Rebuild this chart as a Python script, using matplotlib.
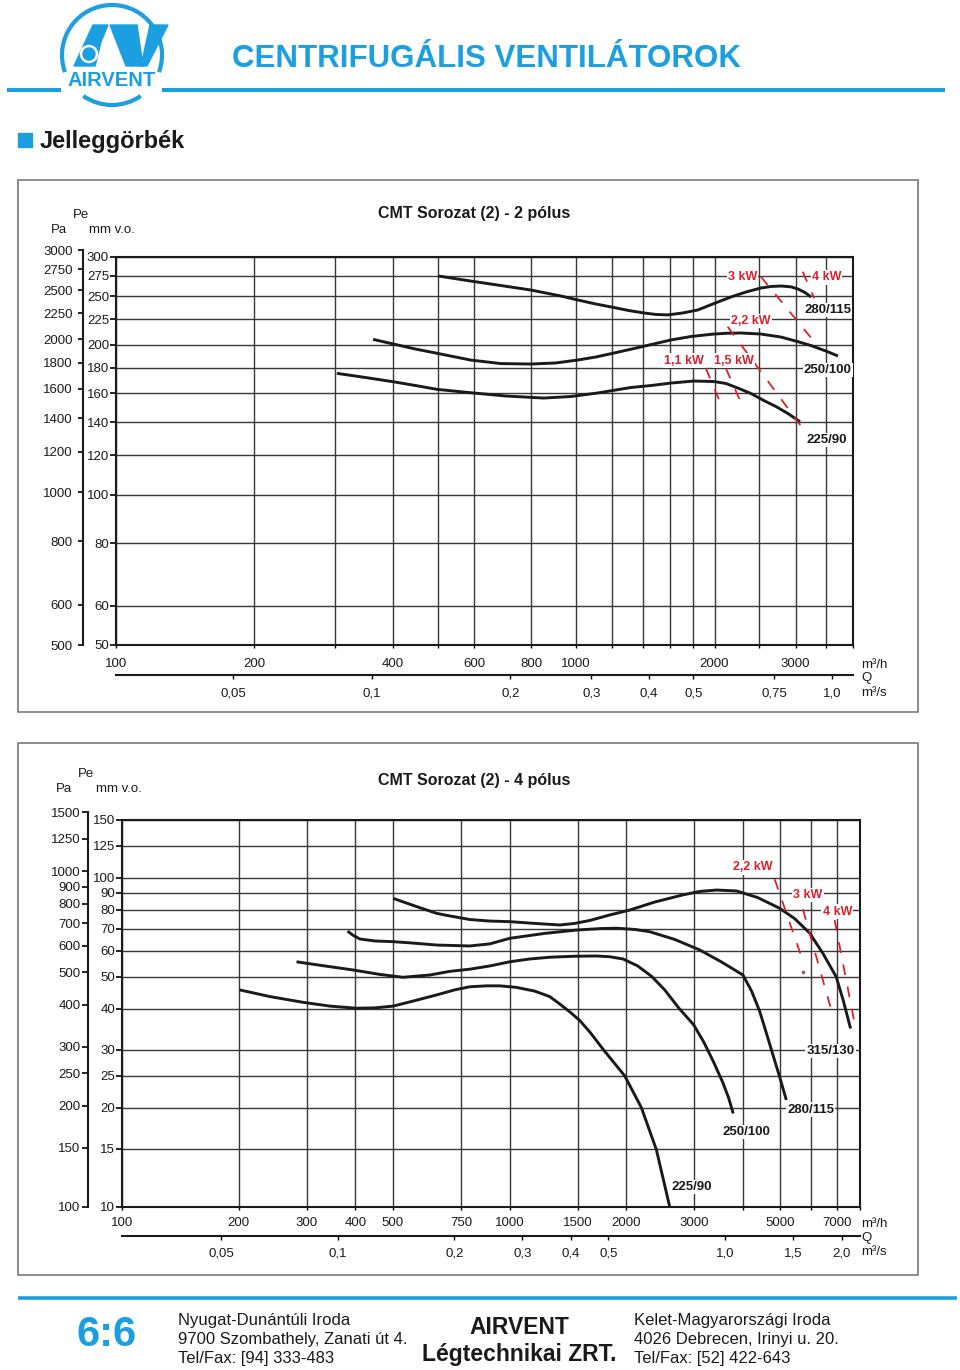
import matplotlib
matplotlib.use("Agg")
import matplotlib.pyplot as plt
from matplotlib.patches import Rectangle, Polygon, Circle, Arc

plt.rcParams["font.family"] = ["Liberation Sans", "DejaVu Sans"]

BLUE = "#1c9fe0"
RED = "#d8212f"
INK = "#1a1a1a"
GRID = "#383838"

# ---------------- 2 pólus (Q in m3/h, Pe in mm v.o.) ----------------
P2_TITLE = "CMT Sorozat (2) - 2 pólus"
P2_Q_GRID = [100, 200, 300, 400, 500, 600, 800, 1000, 1200, 1400, 1600, 1800,
             2000, 2500, 3000, 3500, 4000]
P2_Q_LABELS = [100, 200, 400, 600, 800, 1000, 2000, 3000]
P2_MM = [300, 275, 250, 225, 200, 180, 160, 140, 120, 100, 80, 60, 50]
P2_PA = [3000, 2750, 2500, 2250, 2000, 1800, 1600, 1400, 1200, 1000, 800, 600, 500]
P2_QS = [0.05, 0.1, 0.2, 0.3, 0.4, 0.5, 0.75, 1.0]
P2_QS_LABELS = ["0,05", "0,1", "0,2", "0,3", "0,4", "0,5", "0,75", "1,0"]

P2_NAMES = ["280/115", "250/100", "225/90"]
P2_280_Q = [502, 590, 686, 797, 926, 1008, 1103, 1208, 1302, 1404, 1491, 1583,
            1707, 1840, 1994, 2171, 2341, 2523, 2653, 2789, 2932, 3037, 3146, 3242]
P2_280_P = [274.8, 268.5, 263.0, 257.6, 250.6, 246.0, 241.5, 237.6, 234.3, 231.7,
            230.1, 229.6, 231.7, 234.9, 242.0, 249.4, 255.2, 260.0, 261.8, 262.4,
            261.4, 258.8, 254.6, 249.4]
P2_250_Q = [362, 401, 448, 499, 590, 686, 797, 903, 1008, 1103, 1208, 1383, 1607,
            1777, 1994, 2139, 2283, 2523, 2789, 3037, 3242, 3495, 3711]
P2_250_P = [205.1, 200.7, 196.1, 192.3, 186.4, 183.4, 183.0, 183.9, 186.4, 189.0,
            192.5, 198.0, 204.5, 207.8, 210.2, 211.0, 211.2, 210.2, 207.3, 202.9,
            199.3, 194.3, 189.9]
P2_225_Q = [302, 348, 401, 448, 499, 590, 703, 850, 974, 1114, 1315, 1454, 1607,
            1803, 1994, 2117, 2248, 2400, 2561, 2720, 2889, 3068]
P2_225_P = [175.3, 172.0, 168.6, 165.7, 162.8, 160.3, 157.9, 156.4, 157.5, 160.1,
            164.2, 165.7, 167.6, 169.2, 168.8, 167.3, 163.8, 159.7, 154.6, 150.4,
            145.6, 140.2]

P2_KW = ["1,1 kW", "1,5 kW", "2,2 kW", "3 kW", "4 kW"]
P2_KW_Q = [(1915, 2047), (2117, 2274), (2135, 3073), (2523, 3295), (3110, 3295)]
P2_KW_P = [(179.4, 155), (179.4, 154.5), (217.5, 138), (273.9, 202.9), (280.3, 247.9)]

# ---------------- 4 pólus ----------------
P4_TITLE = "CMT Sorozat (2) - 4 pólus"
P4_Q_GRID = [100, 200, 300, 400, 500, 750, 1000, 1500, 2000, 3000, 4000, 5000,
             6000, 7000, 8000]
P4_Q_LABELS = [100, 200, 300, 400, 500, 750, 1000, 1500, 2000, 3000, 5000, 7000]
P4_MM = [150, 125, 100, 90, 80, 70, 60, 50, 40, 30, 25, 20, 15, 10]
P4_PA = [1500, 1250, 1000, 900, 800, 700, 600, 500, 400, 300, 250, 200, 150, 100]
P4_QS = [0.05, 0.1, 0.2, 0.3, 0.4, 0.5, 1.0, 1.5, 2.0]
P4_QS_LABELS = ["0,05", "0,1", "0,2", "0,3", "0,4", "0,5", "1,0", "1,5", "2,0"]

P4_NAMES = ["315/130", "280/115", "250/100", "225/90"]
P4_315_Q = [501, 570, 648, 701, 790, 889, 1001, 1162, 1348, 1473, 1610, 1813, 2042,
            2369, 2798, 3095, 3423, 3855, 4367, 4978, 5440, 5946, 6435, 6969, 7257,
            7587]
P4_315_P = [86.5, 82.0, 77.9, 76.5, 74.6, 73.8, 73.5, 72.6, 71.8, 72.6, 74.1, 77.0,
            79.7, 84.3, 88.6, 90.8, 91.7, 91.1, 87.0, 80.7, 75.1, 67.9, 58.9, 49.9,
            42.5, 34.8]
P4_280_Q = [382, 394, 411, 449, 500, 570, 648, 790, 889, 1001, 1233, 1488, 1709,
            1887, 2104, 2300, 2668, 3095, 3526, 4002, 4214, 4419, 4607, 4802, 4978,
            5179]
P4_280_P = [68.8, 66.9, 65.1, 64.2, 63.9, 63.2, 62.4, 62.0, 62.9, 65.4, 67.7, 69.3,
            70.0, 70.2, 69.6, 68.5, 64.9, 60.3, 55.4, 50.6, 45.2, 39.3, 33.5, 28.5,
            24.8, 21.1]
P4_250_Q = [282, 334, 395, 463, 531, 623, 701, 790, 889, 1001, 1128, 1270, 1473,
            1676, 1813, 1963, 2142, 2327, 2514, 2732, 2987, 3169, 3363, 3548, 3677,
            3778]
P4_250_P = [55.5, 53.9, 52.4, 50.8, 49.8, 50.6, 51.9, 52.7, 53.9, 55.5, 56.6, 57.3,
            57.7, 57.8, 57.5, 56.6, 53.9, 50.1, 45.6, 40.2, 35.7, 31.7, 27.5, 23.9,
            21.4, 19.2]
P4_225_Q = [201, 241, 293, 344, 403, 449, 501, 570, 648, 722, 790, 872, 944, 1042,
            1162, 1270, 1348, 1430, 1518, 1620, 1743, 1982, 2189, 2393, 2590]
P4_225_P = [45.6, 43.5, 41.8, 40.7, 40.1, 40.2, 40.7, 42.3, 44.0, 45.6, 46.6, 46.9,
            46.9, 46.4, 45.2, 43.5, 41.3, 39.1, 36.8, 33.7, 30.1, 25.0, 20.0, 14.9,
            10.0]

P4_KW = ["2,2 kW", "3 kW", "4 kW"]
P4_KW_Q = [(4833, 5683), (5715, 6804), (6900, 7770)]
P4_KW_P = [(98.9, 56.9), (80.1, 38.7), (74.3, 36.1)]
P4_DOT_Q = [5715]
P4_DOT_P = [51.6]

W, H = 960, 1370
fig = plt.figure(figsize=(W / 100, H / 100), dpi=100)


def px(x0, y0, x1, y1):
    # pixel box (top-left origin) -> figure rect
    return [x0 / W, 1 - y1 / H, (x1 - x0) / W, (y1 - y0) / H]


bg = fig.add_axes([0, 0, 1, 1], zorder=0)
bg.set_xlim(0, W)
bg.set_ylim(H, 0)
bg.axis("off")

# ---------------- header ----------------
bg.plot([7, 61], [90, 90], color=BLUE, lw=2.9, solid_capstyle="butt")
bg.plot([162, 945], [90, 90], color=BLUE, lw=2.9, solid_capstyle="butt")
bg.add_patch(Arc((112, 55), 100, 100, theta1=160, theta2=380, color=BLUE, lw=3))
bg.add_patch(Arc((112, 55), 100, 100, theta1=55, theta2=125, color=BLUE, lw=3))
bg.add_patch(Polygon([(74, 66), (93, 25), (108, 25), (101, 42), (95, 66)], color=BLUE))
bg.add_patch(Polygon([(110, 25), (137, 25), (143, 66), (126, 66)], color=BLUE))
bg.add_patch(Polygon([(150, 25), (168, 25), (147, 66), (141, 66)], color=BLUE))
bg.add_patch(Circle((89, 54), 8.5, color="white"))
bg.add_patch(Circle((89, 54), 6, color=BLUE))
bg.text(112, 86, "AIRVENT", color=BLUE, fontsize=14.5, fontweight="bold",
        ha="center", va="baseline")
bg.text(487, 67, "CENTRIFUGÁLIS VENTILÁTOROK", color=BLUE, fontsize=22.5,
        fontweight="bold", ha="center", va="baseline")
bg.add_patch(Rectangle((18, 133), 14, 14, color=BLUE))
bg.text(40, 148, "Jelleggörbék", color=INK, fontsize=17, fontweight="bold",
        ha="left", va="baseline")

# chart frames
bg.add_patch(Rectangle((18, 180), 900, 532, fill=False, ec="#7a7a7a", lw=1.2))
bg.add_patch(Rectangle((18, 743), 900, 532, fill=False, ec="#7a7a7a", lw=1.2))

# ---------------- footer ----------------
bg.plot([18, 957], [1297.5, 1297.5], color=BLUE, lw=2.6, solid_capstyle="butt")
bg.text(107, 1346, "6:6", color=BLUE, fontsize=30, fontweight="bold",
        ha="center", va="baseline")
for i, line in enumerate(["Nyugat-Dunántúli Iroda", "9700 Szombathely, Zanati út 4.",
                          "Tel/Fax: [94] 333-483"]):
    bg.text(178, 1325 + 19 * i, line, fontsize=12, color=INK, va="baseline")
for i, line in enumerate(["Kelet-Magyarországi Iroda", "4026 Debrecen, Irinyi u. 20.",
                          "Tel/Fax: [52] 422-643"]):
    bg.text(634, 1325 + 19 * i, line, fontsize=12, color=INK, va="baseline")
bg.text(519, 1334, "AIRVENT", fontsize=16.5, fontweight="bold", color=INK,
        ha="center", va="baseline")
bg.text(519, 1361, "Légtechnikai ZRT.", fontsize=16.5, fontweight="bold", color=INK,
        ha="center", va="baseline")


def draw_chart(c):
    x0, y0, x1, y1 = c["plot"]
    ax = fig.add_axes(px(x0, y0, x1, y1), zorder=2)
    ax.patch.set_visible(False)
    ax.set_xscale("log")
    ax.set_yscale("log")
    ax.set_xlim(c["xlim"])
    ax.set_ylim(c["ylim"])
    ax.set_xticks(c["q_grid"], [str(v) if v in c["q_lab"] else "" for v in c["q_grid"]])
    ax.set_yticks(c["mm"], [str(v) for v in c["mm"]])
    ax.minorticks_off()
    ax.grid(True, color=GRID, lw=1.0)
    for s in ax.spines.values():
        s.set_linewidth(1.5)
        s.set_color(INK)
    ax.tick_params(axis="x", length=2.5, width=1, pad=c["xpad"], labelsize=9.5,
                   labelcolor=INK)
    ax.tick_params(axis="y", length=4, width=1.2, pad=1, labelsize=9.5, labelcolor=INK)

    for q, p in zip(c["curve_q"], c["curve_p"]):
        ax.plot(q, p, color=INK, lw=2.1, zorder=4, solid_joinstyle="round",
                solid_capstyle="butt")
    for q, p in zip(c["kw_q"], c["kw_p"]):
        ax.plot(q, p, color=RED, lw=1.3, ls=(0, (6, 6.5)), zorder=4)
    for name, (q, p) in zip(c["kw"], c["kw_at"]):
        ax.text(q, p, name, color=RED, fontsize=9, fontweight="bold", ha="center",
                va="center_baseline", zorder=6,
                bbox=dict(fc="white", ec="none", pad=0.8))
    for name, (q, p) in zip(c["names"], c["name_at"]):
        ax.text(q, p, name, color=INK, fontsize=9.5, fontweight="bold", ha="center",
                va="center_baseline", zorder=6,
                bbox=dict(fc="white", ec="none", pad=0.8))

    # second flow axis, m3/s
    qy = c["q_y"]
    qa = fig.add_axes(px(x0, qy - 2, x1, qy), zorder=2)
    qa.patch.set_visible(False)
    qa.set_xscale("log")
    qa.set_xlim(c["xlim"][0] / 3600, c["xlim"][1] / 3600)
    qa.set_yticks([])
    for s in ("top", "left", "right"):
        qa.spines[s].set_visible(False)
    qa.spines["bottom"].set_linewidth(1.5)
    qa.spines["bottom"].set_color(INK)
    qa.set_xticks(c["qs"], c["qs_lab"])
    qa.minorticks_off()
    qa.tick_params(axis="x", length=3, width=1, pad=c["qpad"], labelsize=9.5,
                   labelcolor=INK)

    # Pa pressure axis
    pa_x, pa_y0, pa_y1 = c["pa_axis"]
    pa = fig.add_axes(px(pa_x, pa_y0, pa_x + 2, pa_y1), zorder=2)
    pa.patch.set_visible(False)
    pa.set_yscale("log")
    pa.set_ylim(c["palim"])
    pa.set_xticks([])
    for s in ("top", "right", "bottom"):
        pa.spines[s].set_visible(False)
    pa.spines["left"].set_linewidth(1.5)
    pa.spines["left"].set_color(INK)
    pa.set_yticks(c["pa"], [str(v) for v in c["pa"]])
    pa.minorticks_off()
    pa.tick_params(axis="y", length=c["pa_len"], width=1.2, pad=c["pa_pad"],
                   labelsize=9.5, labelcolor=INK)

    # titles and unit texts
    tx, ty = c["title_at"]
    bg.text(tx, ty, c["title"], fontsize=11.5, fontweight="bold", color=INK,
            va="baseline")
    (pex, pey), (pax, pay), (mmx, mmy) = c["unit_at"]
    bg.text(pex, pey, "Pe", fontsize=9.5, color=INK, va="baseline")
    bg.text(pax, pay, "Pa", fontsize=9.5, color=INK, va="baseline")
    bg.text(mmx, mmy, "mm v.o.", fontsize=9.5, color=INK, va="baseline")
    ux, uy = c["flow_units_at"]
    bg.text(ux, uy, "m³/h", fontsize=9.5, color=INK, va="baseline")
    bg.text(ux, uy + 13.5, "Q", fontsize=9.5, color=INK, va="baseline")
    bg.text(ux, uy + 28, "m³/s", fontsize=9.5, color=INK, va="baseline")
    return ax


top = dict(
    plot=(116, 257, 853, 645), xlim=(100, 4000), ylim=(50, 300),
    q_grid=P2_Q_GRID, q_lab=P2_Q_LABELS, mm=P2_MM, pa=P2_PA,
    qs=P2_QS, qs_lab=P2_QS_LABELS,
    curve_q=[P2_280_Q, P2_250_Q, P2_225_Q], curve_p=[P2_280_P, P2_250_P, P2_225_P],
    kw=P2_KW, kw_q=P2_KW_Q, kw_p=P2_KW_P,
    kw_at=[(1718, 187.3), (2200, 187.3), (2400, 225), (2302, 274.8), (3505, 274.8)],
    names=P2_NAMES, name_at=[(3525, 236.7), (3525, 179.4), (3512, 130)],
    xpad=7.2, q_y=675, qpad=5.8,
    pa_axis=(82.7, 250, 645), palim=(500, 3000), pa_len=3.3, pa_pad=4,
    title=P2_TITLE, title_at=(378, 218),
    unit_at=((72.7, 217.7), (50.7, 232.7), (89.3, 232.7)),
    flow_units_at=(861, 667.5),
)

bottom = dict(
    plot=(122, 819.7, 859.5, 1206.7), xlim=(100, 8000), ylim=(10, 150),
    q_grid=P4_Q_GRID, q_lab=P4_Q_LABELS, mm=P4_MM, pa=P4_PA,
    qs=P4_QS, qs_lab=P4_QS_LABELS,
    curve_q=[P4_315_Q, P4_280_Q, P4_250_Q, P4_225_Q],
    curve_p=[P4_315_P, P4_280_P, P4_250_P, P4_225_P],
    kw=P4_KW, kw_q=P4_KW_Q, kw_p=P4_KW_P,
    kw_at=[(4237, 108.5), (5887, 89.6), (7010, 79.7)],
    names=P4_NAMES,
    name_at=[(6736, 30.1), (5981, 19.95), (4090, 17.0), (2952, 11.6)],
    xpad=5.1, q_y=1236, qpad=5.1,
    pa_axis=(88.3, 812.3, 1206.7), palim=(100, 1500), pa_len=4.5, pa_pad=1,
    title=P4_TITLE, title_at=(378, 784.5),
    unit_at=((78.3, 777.3), (56, 792.3), (96, 792)),
    flow_units_at=(861, 1227),
)

draw_chart(top)
ax4 = draw_chart(bottom)
ax4.plot(P4_DOT_Q, P4_DOT_P, "o", ms=1.6, color="#b05058", zorder=5)

fig.savefig("out.png", dpi=100)
